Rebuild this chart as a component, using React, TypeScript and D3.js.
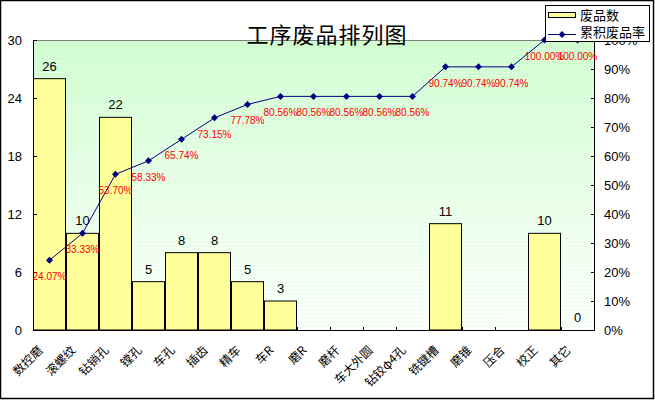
import React, { useEffect, useRef } from 'react';
import * as d3 from 'd3';

const categories = ['数控磨', '滚螺纹', '钻销孔', '镗孔', '车孔', '插齿', '精车', '车R', '磨R', '磨杆', '车大外圆', '钻铰φ4孔', '铣键槽', '磨锥', '压合', '校正', '其它'];
const counts: (number | null)[] = [26, 10, 22, 5, 8, 8, 5, 3, null, null, null, null, 11, null, null, 10, 0];
const cumRate = [24.07, 33.33, 53.70, 58.33, 65.74, 73.15, 77.78, 80.56, 80.56, 80.56, 80.56, 80.56, 90.74, 90.74, 90.74, 100, 100];
const leftTicks = [0, 6, 12, 18, 24, 30];
const rightTicks = [0, 10, 20, 30, 40, 50, 60, 70, 80, 90, 100];

const W = 655;
const H = 401;
const NUM_FONT = '"Liberation Sans", Arial, sans-serif';
const CJK_FONT = '"Noto Sans CJK SC", sans-serif';

const App: React.FC = () => {
  const svgRef = useRef<SVGSVGElement>(null);

  useEffect(() => {
    if (!svgRef.current) return;
    const svg = d3.select(svgRef.current);
    svg.selectAll('*').remove();

    const margin = { top: 40, right: 61, bottom: 71, left: 33 };
    const x = d3.scaleBand<string>().domain(categories).range([margin.left, W - margin.right]).padding(0);
    const yL = d3.scaleLinear().domain([0, 30]).range([H - margin.bottom, margin.top]);
    const yR = d3.scaleLinear().domain([0, 100]).range([H - margin.bottom, margin.top]);
    const x0 = margin.left, x1 = W - margin.right, yB = H - margin.bottom, yT = margin.top;

    // background fills
    const defs = svg.append('defs');
    const grad = defs.append('linearGradient').attr('id', 'bg').attr('x1', 0).attr('y1', 0).attr('x2', 0).attr('y2', 1);
    grad.append('stop').attr('offset', '0%').attr('stop-color', '#ccffcc');
    grad.append('stop').attr('offset', '100%').attr('stop-color', '#ffffff');
    const pat = defs.append('pattern').attr('id', 'dots').attr('width', 4).attr('height', 4).attr('patternUnits', 'userSpaceOnUse');
    pat.append('rect').attr('x', 0).attr('y', 0).attr('width', 1).attr('height', 1).attr('fill', '#ffffff').attr('opacity', 0.8);
    pat.append('rect').attr('x', 2).attr('y', 2).attr('width', 1).attr('height', 1).attr('fill', '#d6f5d6');

    svg.append('rect').attr('x', 0).attr('y', 0).attr('width', W).attr('height', H).attr('fill', '#fff');
    svg.append('rect').attr('x', x0).attr('y', yT).attr('width', x1 - x0).attr('height', yB - yT).attr('fill', 'url(#bg)');
    svg.append('rect').attr('x', x0).attr('y', yT).attr('width', x1 - x0).attr('height', yB - yT).attr('fill', 'url(#dots)');
    svg.append('line').attr('x1', x0).attr('x2', x1).attr('y1', yT + 0.5).attr('y2', yT + 0.5).attr('stroke', '#808080');

    // title
    svg.append('text')
      .attr('x', 327).attr('y', 43)
      .attr('text-anchor', 'middle')
      .attr('font-family', CJK_FONT).attr('font-size', 22)
      .attr('letter-spacing', 1)
      .text('工序废品排列图');

    // bars
    const barData = categories.map((c, i) => ({ c, v: counts[i] }));
    svg.append('g').selectAll('rect')
      .data(barData.filter(d => d.v !== null && (d.v as number) > 0))
      .join('rect')
      .attr('x', d => x(d.c)! + 0.5)
      .attr('y', d => yL(d.v as number))
      .attr('width', x.bandwidth() - 1)
      .attr('height', d => yB - yL(d.v as number))
      .attr('fill', '#ffff99')
      .attr('stroke', '#000')
      .attr('stroke-width', 1);

    svg.append('g').selectAll('text')
      .data(barData.filter(d => d.v !== null))
      .join('text')
      .attr('x', d => x(d.c)! + x.bandwidth() / 2)
      .attr('y', d => yL(d.v as number) - 8)
      .attr('text-anchor', 'middle')
      .attr('font-family', NUM_FONT).attr('font-size', 13)
      .text(d => String(d.v));

    // axes
    const axes = svg.append('g').attr('stroke', '#000').attr('stroke-width', 1);
    axes.append('line').attr('x1', x0 + 0.5).attr('x2', x0 + 0.5).attr('y1', yT).attr('y2', yB);
    axes.append('line').attr('x1', x1 + 0.5).attr('x2', x1 + 0.5).attr('y1', yT).attr('y2', yB);
    axes.append('line').attr('x1', x0).attr('x2', x1 + 1).attr('y1', yB + 0.5).attr('y2', yB + 0.5);
    axes.selectAll('.tl').data(leftTicks).join('line')
      .attr('x1', x0).attr('x2', x0 + 4)
      .attr('y1', d => Math.round(yL(d)) + 0.5).attr('y2', d => Math.round(yL(d)) + 0.5);
    axes.selectAll('.tr').data(rightTicks).join('line')
      .attr('x1', x1 - 3).attr('x2', x1 + 1)
      .attr('y1', d => Math.round(yR(d)) + 0.5).attr('y2', d => Math.round(yR(d)) + 0.5);
    axes.selectAll('.tb').data(d3.range(categories.length + 1)).join('line')
      .attr('x1', i => x0 + i * x.step() + 0.5).attr('x2', i => x0 + i * x.step() + 0.5)
      .attr('y1', yB - 3).attr('y2', yB);

    svg.append('g').selectAll('text').data(leftTicks).join('text')
      .attr('x', 22).attr('y', d => yL(d) + 5)
      .attr('text-anchor', 'end')
      .attr('font-family', NUM_FONT).attr('font-size', 13)
      .text(d => String(d));

    svg.append('g').selectAll('text').data(rightTicks).join('text')
      .attr('x', 604).attr('y', d => yR(d) + 5)
      .attr('font-family', NUM_FONT).attr('font-size', 13)
      .text(d => `${d}%`);

    svg.append('g').selectAll('text').data(categories).join('text')
      .attr('transform', d => `translate(${x(d)! + x.bandwidth() / 2 - 6},${yB + 21}) rotate(-45)`)
      .attr('text-anchor', 'end')
      .attr('font-family', CJK_FONT).attr('font-size', 12)
      .text(d => d);

    // cumulative line
    const pts = categories.map((c, i) => ({ c, r: cumRate[i] }));
    const line = d3.line<{ c: string; r: number }>()
      .x(d => x(d.c)! + x.bandwidth() / 2)
      .y(d => yR(d.r));
    svg.append('path').datum(pts)
      .attr('fill', 'none').attr('stroke', '#000080').attr('stroke-width', 1)
      .attr('d', line);
    const diamond = 'M0,-3.5L3.5,0L0,3.5L-3.5,0Z';
    svg.append('g').selectAll('path').data(pts).join('path')
      .attr('transform', d => `translate(${x(d.c)! + x.bandwidth() / 2},${yR(d.r)})`)
      .attr('d', diamond).attr('fill', '#000080');
    svg.append('g').selectAll('text').data(pts).join('text')
      .attr('x', d => x(d.c)! + x.bandwidth() / 2)
      .attr('y', d => yR(d.r) + 20)
      .attr('text-anchor', 'middle')
      .attr('font-family', NUM_FONT).attr('font-size', 10)
      .attr('fill', '#ff0000')
      .text(d => `${d.r.toFixed(2)}%`);

    // legend
    const lg = svg.append('g');
    lg.append('rect').attr('x', 545.5).attr('y', 5.5).attr('width', 104).attr('height', 36)
      .attr('fill', '#fff').attr('stroke', '#000');
    lg.append('rect').attr('x', 548.5).attr('y', 12.5).attr('width', 27).attr('height', 5)
      .attr('fill', '#ffff99').attr('stroke', '#000');
    lg.append('text').attr('x', 580).attr('y', 20).attr('font-family', CJK_FONT).attr('font-size', 13).text('废品数');
    lg.append('line').attr('x1', 548).attr('x2', 576).attr('y1', 34.5).attr('y2', 34.5).attr('stroke', '#000080');
    lg.append('path').attr('transform', 'translate(562,34.5)').attr('d', diamond).attr('fill', '#000080');
    lg.append('text').attr('x', 580).attr('y', 37).attr('font-family', CJK_FONT).attr('font-size', 13).text('累积废品率');

    // outer border
    svg.append('rect').attr('x', 0.5).attr('y', 0.5).attr('width', W - 2).attr('height', H - 3)
      .attr('fill', 'none').attr('stroke', '#000').attr('stroke-width', 1.5);
  }, []);

  return (
    <div style={{ position: 'absolute', left: 0, top: 0 }}>
      <svg ref={svgRef} width={W} height={H} style={{ display: 'block' }} />
    </div>
  );
};

export default App;
